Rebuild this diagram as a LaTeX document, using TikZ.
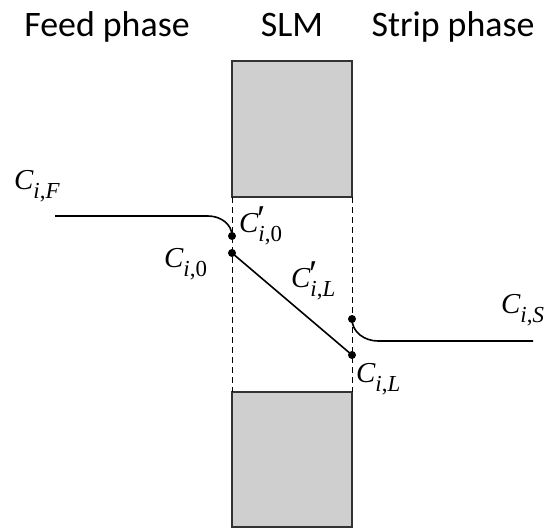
\documentclass[tikz,border=0pt]{standalone}
\usepackage{fontspec}
\setmainfont{Carlito}
\newfontfamily\labfont{Liberation Serif}
% concentration symbol C with subscript, optionally primed
\newcommand{\concsym}[2]{{\labfont\fontsize{29}{30}\selectfont\itshape C}%
  \rlap{\kern-1bp\raisebox{1bp}{\labfont\fontsize{38}{38}\selectfont #1}}%
  \raisebox{-9bp}{\labfont\fontsize{23}{23}\selectfont #2}}
\begin{document}
\begin{tikzpicture}[x=1bp,y=-1bp,
  block/.style={draw=black!80, line width=1.2bp, fill=black!19},
  wall/.style={dash pattern=on 6bp off 4bp, line width=1bp},
  profile/.style={line width=1.6bp},
  dot/.style={circle, fill=black, inner sep=0pt, minimum size=8bp},
  head/.style={font=\fontsize{36}{40}\selectfont, anchor=base, inner sep=0pt},
  lab/.style={inner sep=0pt, anchor=base west}]
\useasboundingbox (0,0) rectangle (547,529);
% headings
\node[head] (hfeed) at (107,37) {Feed phase};
\node[head] (hslm) at (292,37) {SLM};
\node[head] (hstrip) at (453,37) {Strip phase};
% membrane blocks and interfaces
\draw[block] (232,61) rectangle (352,197);
\draw[block] (232,392) rectangle (352,527);
\draw[wall] (232,197) -- (232,392);
\draw[wall] (352,197) -- (352,392);
% interface points
\node[dot] (cf0) at (232,236) {};
\node[dot] (c0) at (232,253) {};
\node[dot] (cl) at (352,355) {};
\node[dot] (csl) at (352,319) {};
\coordinate (fstart) at (55,216);
\coordinate (send) at (533,341);
% concentration profile
\draw[profile] (fstart) -- (208,216) to[out=0,in=90] (cf0.center);
\draw[profile] (c0.center) -- (cl.center);
\draw[profile] (csl.center) to[out=-90,in=180] (378,341) -- (send);
% labels
\node[lab] (lf) at (14,190) {\concsym{}{\textit{i},\textit{F}}};
\node[lab] (l0p) at (239,232) {\concsym{′}{\textit{i},0}};
\node[lab] (l0) at (164,267) {\concsym{}{\textit{i},0}};
\node[lab] (lLp) at (291,287) {\concsym{′}{\textit{i},\textit{L}}};
\node[lab] (lS) at (501,313) {\concsym{}{\textit{i},\textit{S}}};
\node[lab] (lL) at (356,382) {\concsym{}{\textit{i},\textit{L}}};
\end{tikzpicture}
\end{document}
